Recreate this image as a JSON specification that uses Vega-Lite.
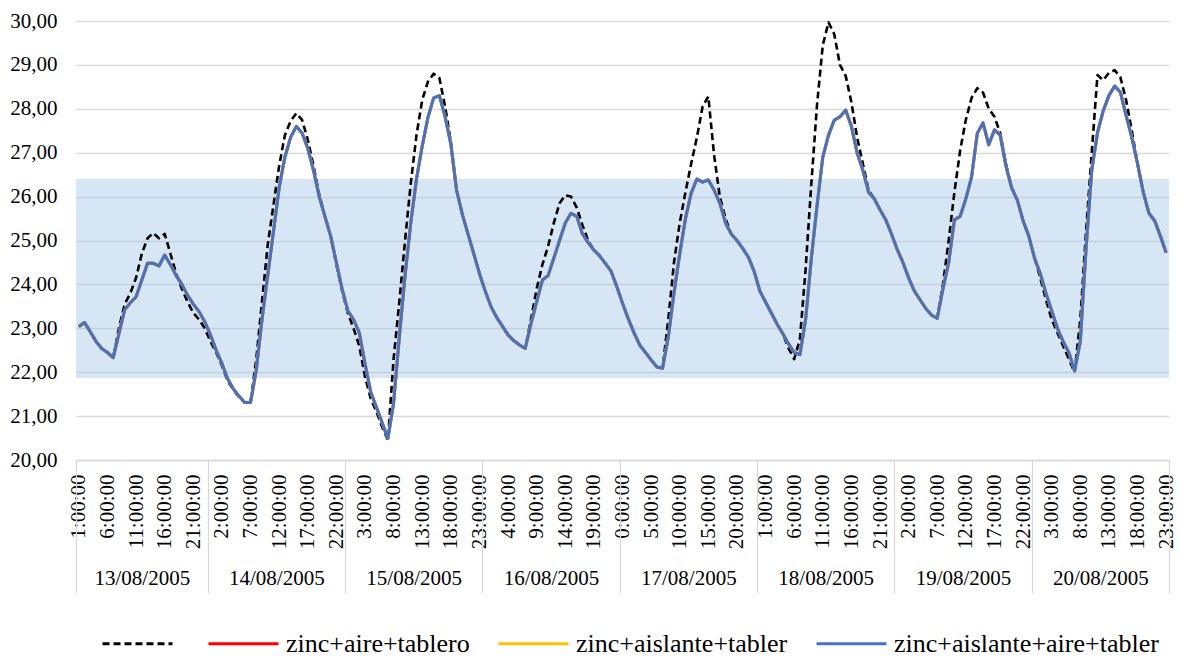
{
"$schema": "https://vega.github.io/schema/vega-lite/v6.json",
"width": 1093,
"height": 439,
"autosize": {"type": "none"},
"padding": {"left": 76, "top": 21, "right": 11, "bottom": 197},
"background": "white",
"config": {"view": {"stroke": null}, "font": "Liberation Serif"},
"data": {"values": [
{"i":0,"d":23.04,"b":23.04},{"i":1,"d":23.13,"b":23.13},{"i":2,"d":22.92,"b":22.92},{"i":3,"d":22.7,"b":22.7},{"i":4,"d":22.54,"b":22.54},{"i":5,"d":22.45,"b":22.45},{"i":6,"d":22.33,"b":22.33},{"i":7,"d":23.0,"b":22.88},{"i":8,"d":23.55,"b":23.42},{"i":9,"d":23.8,"b":23.58},
{"i":10,"d":24.15,"b":23.72},{"i":11,"d":24.7,"b":24.1},{"i":12,"d":25.05,"b":24.48},{"i":13,"d":25.17,"b":24.48},{"i":14,"d":25.05,"b":24.42},{"i":15,"d":25.15,"b":24.67},{"i":16,"d":24.7,"b":24.45},{"i":17,"d":24.25,"b":24.2},{"i":18,"d":23.9,"b":24.0},{"i":19,"d":23.6,"b":23.75},
{"i":20,"d":23.35,"b":23.55},{"i":21,"d":23.2,"b":23.38},{"i":22,"d":23.0,"b":23.15},{"i":23,"d":22.7,"b":22.85},{"i":24,"d":22.45,"b":22.5},{"i":25,"d":22.15,"b":22.2},{"i":26,"d":21.8,"b":21.85},{"i":27,"d":21.6,"b":21.62},{"i":28,"d":21.43,"b":21.45},{"i":29,"d":21.31,"b":21.31},
{"i":30,"d":21.31,"b":21.31},{"i":31,"d":22.3,"b":22.05},{"i":32,"d":23.6,"b":23.2},{"i":33,"d":24.9,"b":24.2},{"i":34,"d":25.8,"b":25.2},{"i":35,"d":26.7,"b":26.2},{"i":36,"d":27.4,"b":26.9},{"i":37,"d":27.72,"b":27.35},{"i":38,"d":27.9,"b":27.6},{"i":39,"d":27.75,"b":27.45},
{"i":40,"d":27.3,"b":27.1},{"i":41,"d":26.7,"b":26.6},{"i":42,"d":26.05,"b":26.0},{"i":43,"d":25.55,"b":25.55},{"i":44,"d":25.1,"b":25.1},{"i":45,"d":24.45,"b":24.5},{"i":46,"d":23.85,"b":23.9},{"i":47,"d":23.35,"b":23.4},{"i":48,"d":23.0,"b":23.2},{"i":49,"d":22.6,"b":22.9},
{"i":50,"d":21.9,"b":22.2},{"i":51,"d":21.4,"b":21.55},{"i":52,"d":21.1,"b":21.2},{"i":53,"d":20.75,"b":20.85},{"i":54,"d":20.45,"b":20.49},{"i":55,"d":22.3,"b":21.3},{"i":56,"d":23.6,"b":22.8},{"i":57,"d":25.0,"b":24.2},{"i":58,"d":26.3,"b":25.4},{"i":59,"d":27.4,"b":26.4},
{"i":60,"d":28.2,"b":27.15},{"i":61,"d":28.62,"b":27.8},{"i":62,"d":28.8,"b":28.25},{"i":63,"d":28.7,"b":28.3},{"i":64,"d":28.05,"b":27.82},{"i":65,"d":27.25,"b":27.2},{"i":66,"d":26.15,"b":26.15},{"i":67,"d":25.6,"b":25.6},{"i":68,"d":25.15,"b":25.15},{"i":69,"d":24.7,"b":24.7},
{"i":70,"d":24.25,"b":24.25},{"i":71,"d":23.85,"b":23.85},{"i":72,"d":23.5,"b":23.5},{"i":73,"d":23.25,"b":23.25},{"i":74,"d":23.05,"b":23.05},{"i":75,"d":22.85,"b":22.85},{"i":76,"d":22.72,"b":22.72},{"i":77,"d":22.62,"b":22.62},{"i":78,"d":22.54,"b":22.54},{"i":79,"d":23.2,"b":23.1},
{"i":80,"d":23.9,"b":23.6},{"i":81,"d":24.45,"b":24.1},{"i":82,"d":24.87,"b":24.2},{"i":83,"d":25.4,"b":24.6},{"i":84,"d":25.85,"b":25.0},{"i":85,"d":26.03,"b":25.4},{"i":86,"d":26.0,"b":25.62},{"i":87,"d":25.75,"b":25.55},{"i":88,"d":25.35,"b":25.15},{"i":89,"d":25.0,"b":24.95},
{"i":90,"d":24.78,"b":24.78},{"i":91,"d":24.65,"b":24.65},{"i":92,"d":24.48,"b":24.48},{"i":93,"d":24.3,"b":24.3},{"i":94,"d":23.95,"b":23.95},{"i":95,"d":23.57,"b":23.57},{"i":96,"d":23.22,"b":23.22},{"i":97,"d":22.9,"b":22.9},{"i":98,"d":22.62,"b":22.62},{"i":99,"d":22.45,"b":22.45},
{"i":100,"d":22.28,"b":22.28},{"i":101,"d":22.12,"b":22.12},{"i":102,"d":22.09,"b":22.09},{"i":103,"d":23.2,"b":22.8},{"i":104,"d":24.5,"b":23.8},{"i":105,"d":25.4,"b":24.7},{"i":106,"d":26.1,"b":25.5},{"i":107,"d":26.75,"b":26.08},{"i":108,"d":27.35,"b":26.4},{"i":109,"d":28.05,"b":26.33},
{"i":110,"d":28.28,"b":26.38},{"i":111,"d":26.95,"b":26.15},{"i":112,"d":26.0,"b":25.85},{"i":113,"d":25.5,"b":25.4},{"i":114,"d":25.15,"b":25.15},{"i":115,"d":25.0,"b":25.0},{"i":116,"d":24.82,"b":24.82},{"i":117,"d":24.62,"b":24.62},{"i":118,"d":24.3,"b":24.3},{"i":119,"d":23.85,"b":23.85},
{"i":120,"d":23.6,"b":23.6},{"i":121,"d":23.35,"b":23.35},{"i":122,"d":23.1,"b":23.1},{"i":123,"d":22.88,"b":22.88},{"i":124,"d":22.55,"b":22.65},{"i":125,"d":22.3,"b":22.45},{"i":126,"d":22.75,"b":22.4},{"i":127,"d":24.35,"b":23.2},{"i":128,"d":26.3,"b":24.6},{"i":129,"d":28.1,"b":25.8},
{"i":130,"d":29.45,"b":26.9},{"i":131,"d":29.97,"b":27.4},{"i":132,"d":29.7,"b":27.74},{"i":133,"d":29.0,"b":27.82},{"i":134,"d":28.75,"b":27.97},{"i":135,"d":28.15,"b":27.6},{"i":136,"d":27.35,"b":27.0},{"i":137,"d":26.75,"b":26.6},{"i":138,"d":26.15,"b":26.1},{"i":139,"d":25.95,"b":25.95},
{"i":140,"d":25.7,"b":25.7},{"i":141,"d":25.47,"b":25.47},{"i":142,"d":25.15,"b":25.15},{"i":143,"d":24.8,"b":24.8},{"i":144,"d":24.5,"b":24.5},{"i":145,"d":24.15,"b":24.15},{"i":146,"d":23.85,"b":23.85},{"i":147,"d":23.65,"b":23.65},{"i":148,"d":23.45,"b":23.45},{"i":149,"d":23.3,"b":23.3},
{"i":150,"d":23.23,"b":23.23},{"i":151,"d":24.0,"b":23.9},{"i":152,"d":25.0,"b":24.5},{"i":153,"d":26.1,"b":25.47},{"i":154,"d":27.05,"b":25.55},{"i":155,"d":27.75,"b":25.95},{"i":156,"d":28.25,"b":26.45},{"i":157,"d":28.47,"b":27.44},{"i":158,"d":28.37,"b":27.68},{"i":159,"d":28.0,"b":27.18},
{"i":160,"d":27.82,"b":27.52},{"i":161,"d":27.45,"b":27.4},{"i":162,"d":26.75,"b":26.7},{"i":163,"d":26.2,"b":26.2},{"i":164,"d":25.92,"b":25.92},{"i":165,"d":25.45,"b":25.45},{"i":166,"d":25.1,"b":25.1},{"i":167,"d":24.6,"b":24.6},{"i":168,"d":24.15,"b":24.25},{"i":169,"d":23.65,"b":23.8},
{"i":170,"d":23.2,"b":23.4},{"i":171,"d":22.9,"b":23.0},{"i":172,"d":22.6,"b":22.7},{"i":173,"d":22.3,"b":22.45},{"i":174,"d":22.0,"b":22.03},{"i":175,"d":23.2,"b":22.7},{"i":176,"d":25.2,"b":24.8},{"i":177,"d":27.0,"b":26.6},{"i":178,"d":28.77,"b":27.45},{"i":179,"d":28.65,"b":27.95},
{"i":180,"d":28.82,"b":28.3},{"i":181,"d":28.88,"b":28.52},{"i":182,"d":28.72,"b":28.38},{"i":183,"d":28.2,"b":27.85},{"i":184,"d":27.5,"b":27.35},{"i":185,"d":26.75,"b":26.75},{"i":186,"d":26.1,"b":26.1},{"i":187,"d":25.62,"b":25.62},{"i":188,"d":25.45,"b":25.45},{"i":189,"d":25.1,"b":25.1},
{"i":190,"d":24.72,"b":24.72}
]},
"layer": [
{
"data": {"values": [{"lo": 21.87, "hi": 26.4}]},
"mark": {"type": "rect", "fill": "#9DC3E6", "opacity": 0.42},
"encoding": {
"y": {"field": "lo", "type": "quantitative", "scale": {"domain": [20, 30], "nice": false, "zero": false},
"axis": {"title": null, "values": [20,21,22,23,24,25,26,27,28,29,30], "labelExpr": "replace(format(datum.value, '.2f'), '.', ',')", "labelFont": "Liberation Serif", "labelFontSize": 21, "labelColor": "#000000", "labelPadding": 19, "ticks": false, "domain": false, "grid": true, "gridColor": "#D9D9D9", "gridWidth": 1.3}},
"y2": {"field": "hi"}
}
},
{
"mark": {"type": "line", "strokeWidth": 2.6, "strokeDash": [7, 4], "strokeJoin": "round"},
"encoding": {
"x": {"field": "i", "type": "quantitative", "scale": {"domain": [-0.5, 190.5], "nice": false, "zero": false},
"axis": {"orient": "bottom", "title": null, "values": [0,5,10,15,20,25,30,35,40,45,50,55,60,65,70,75,80,85,90,95,100,105,110,115,120,125,130,135,140,145,150,155,160,165,170,175,180,185,190], "labelExpr": "((datum.value + 1) % 24) + ':00:00'", "labelAngle": -90, "labelAlign": "right", "labelBaseline": "middle", "labelPadding": 14, "labelFont": "Liberation Serif", "labelFontSize": 21, "labelColor": "#000000", "labelFlush": false, "labelOverlap": false, "ticks": false, "domain": false, "grid": false}},
"y": {"field": "d", "type": "quantitative", "scale": {"domain": [20, 30], "nice": false, "zero": false},
"axis": {"title": null, "values": [20,21,22,23,24,25,26,27,28,29,30], "labelExpr": "replace(format(datum.value, '.2f'), '.', ',')", "labelFont": "Liberation Serif", "labelFontSize": 21, "labelColor": "#000000", "labelPadding": 19, "ticks": false, "domain": false, "grid": true, "gridColor": "#D9D9D9", "gridWidth": 1.3}},
"color": {"datum": " ", "type": "nominal",
"scale": {"domain": [" ", "zinc+aire+tablero", "zinc+aislante+tabler", "zinc+aislante+aire+tabler"], "range": ["#000000", "#FF0000", "#FFC000", "#4472C4"]},
"legend": {"orient": "none", "legendX": 25, "legendY": 586, "direction": "horizontal", "columns": 4, "title": null, "padding": 0, "symbolType": "stroke", "symbolSize": 4900, "symbolStrokeWidth": 3, "labelFont": "Liberation Serif", "labelFontSize": 26, "labelColor": "#000000", "labelOffset": 6, "columnPadding": 22, "labelLimit": 400,
"encode": {"symbols": {"update": {"strokeDash": [{"test": "datum.value === ' '", "value": [7, 4]}, {"value": [1, 0]}]}}}}
}
}
},
{
"mark": {"type": "line", "strokeWidth": 3, "strokeJoin": "round"},
"encoding": {
"x": {"field": "i", "type": "quantitative", "scale": {"domain": [-0.5, 190.5], "nice": false, "zero": false},
"axis": {"orient": "bottom", "title": null, "values": [-0.5, 22.5, 46.5, 70.5, 94.5, 118.5, 142.5, 166.5, 190.5], "labels": false, "ticks": true, "tickSize": 133, "tickColor": "#D9D9D9", "tickWidth": 1.3, "domain": true, "domainColor": "#D9D9D9", "domainWidth": 1.3, "grid": false}},
"y": {"field": "b", "type": "quantitative", "scale": {"domain": [20, 30], "nice": false, "zero": false},
"axis": {"title": null, "values": [20,21,22,23,24,25,26,27,28,29,30], "labelExpr": "replace(format(datum.value, '.2f'), '.', ',')", "labelFont": "Liberation Serif", "labelFontSize": 21, "labelColor": "#000000", "labelPadding": 19, "ticks": false, "domain": false, "grid": true, "gridColor": "#D9D9D9", "gridWidth": 1.3}},
"color": {"datum": "zinc+aire+tablero", "type": "nominal"}
}
},
{
"mark": {"type": "line", "strokeWidth": 3, "strokeJoin": "round"},
"encoding": {
"x": {"field": "i", "type": "quantitative", "scale": {"domain": [-0.5, 190.5], "nice": false, "zero": false},
"axis": {"orient": "bottom", "title": null, "values": [11, 34.5, 58.5, 82.5, 106.5, 130.5, 154.5, 178.5], "labelExpr": "['13/08/2005','14/08/2005','15/08/2005','16/08/2005','17/08/2005','18/08/2005','19/08/2005','20/08/2005'][floor((datum.value + 1) / 24)]", "labelAngle": 0, "labelPadding": 107, "labelFont": "Liberation Serif", "labelFontSize": 21, "labelColor": "#000000", "labelFlush": false, "labelOverlap": false, "ticks": false, "domain": false, "grid": false}},
"y": {"field": "b", "type": "quantitative", "scale": {"domain": [20, 30], "nice": false, "zero": false},
"axis": {"title": null, "values": [20,21,22,23,24,25,26,27,28,29,30], "labelExpr": "replace(format(datum.value, '.2f'), '.', ',')", "labelFont": "Liberation Serif", "labelFontSize": 21, "labelColor": "#000000", "labelPadding": 19, "ticks": false, "domain": false, "grid": true, "gridColor": "#D9D9D9", "gridWidth": 1.3}},
"color": {"datum": "zinc+aislante+tabler", "type": "nominal"}
}
},
{
"mark": {"type": "line", "strokeWidth": 3, "strokeJoin": "round"},
"encoding": {
"x": {"field": "i", "type": "quantitative", "axis": null},
"y": {"field": "b", "type": "quantitative", "scale": {"domain": [20, 30], "nice": false, "zero": false},
"axis": {"title": null, "values": [20,21,22,23,24,25,26,27,28,29,30], "labelExpr": "replace(format(datum.value, '.2f'), '.', ',')", "labelFont": "Liberation Serif", "labelFontSize": 21, "labelColor": "#000000", "labelPadding": 19, "ticks": false, "domain": false, "grid": true, "gridColor": "#D9D9D9", "gridWidth": 1.3}},
"color": {"datum": "zinc+aislante+aire+tabler", "type": "nominal"}
}
}
],
"resolve": {"axis": {"x": "independent"}}
}
